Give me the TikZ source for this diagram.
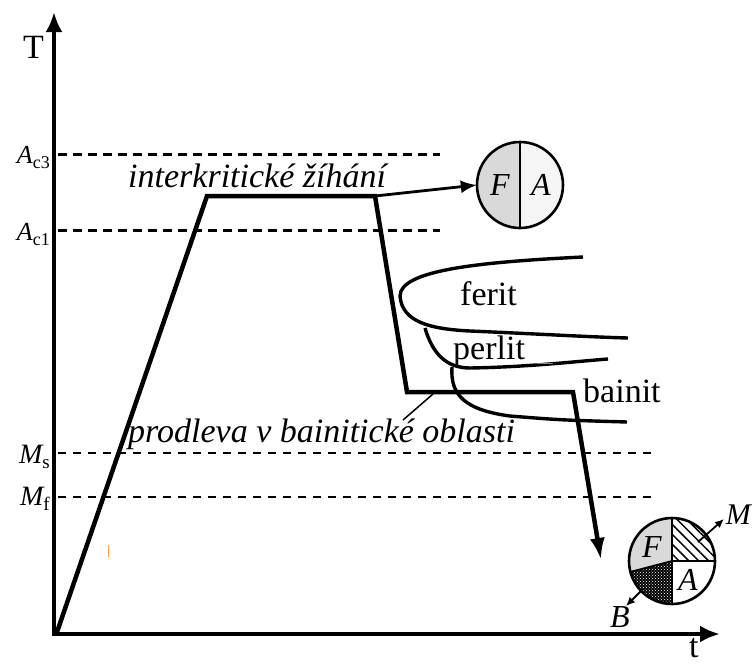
\documentclass[tikz,border=0pt]{standalone}
\usepackage{fontspec}
\setmainfont{Liberation Serif}
\usetikzlibrary{arrows.meta,patterns,patterns.meta}
\newcommand\myTempLbl[4]{{\fontsize{#3}{#3}\selectfont\itshape #1}\raisebox{-5pt}{\fontsize{#4}{#4}\selectfont #2}}
\begin{document}
\begin{tikzpicture}[x=1pt,y=-1pt,
  axisline/.style={line width=4.5pt,line join=miter},
  heatpath/.style={line width=4.5pt,line join=miter},
  curveline/.style={line width=3.4pt},
  acline/.style={line width=3pt,dash pattern=on 9pt off 6pt},
  mline/.style={line width=1.6pt,dash pattern=on 8pt off 7pt},
  lbl/.style={inner sep=0pt,font=\fontsize{34}{40}\selectfont},
  ilbl/.style={inner sep=0pt,font=\fontsize{34}{40}\selectfont\itshape},
  clbl/.style={inner sep=0pt,font=\fontsize{32}{36}\selectfont\itshape},
  phase/.style={circle,minimum size=86pt,inner sep=0pt},
  ringline/.style={line width=2.6pt},
  divline/.style={line width=1.8pt},
  smallarrow/.style={line width=1.8pt,-{Latex[length=9pt,width=8pt]}},
  thin pointer/.style={line width=1.5pt}
]
\useasboundingbox (0,0) rectangle (752,664);
\definecolor{phF}{gray}{0.85}
\definecolor{phA}{gray}{0.96}
% coordinates
\coordinate (o) at (54,634);
\coordinate (ytip) at (54,12);
\coordinate (xtip) at (720,634);
\coordinate (p0) at (57,632);
\coordinate (p1) at (207,196);
\coordinate (p2) at (375,196);
\coordinate (p3) at (407,392);
\coordinate (p4) at (573,392);
\coordinate (p5) at (601,560);
% level lines
\coordinate (ac3a) at (58,154); \coordinate (ac3b) at (440,154);
\coordinate (ac1a) at (58,230); \coordinate (ac1b) at (440,230);
\coordinate (msa) at (58,453); \coordinate (msb) at (652,453);
\coordinate (mfa) at (58,497); \coordinate (mfb) at (652,497);
\draw[acline] (ac3a) -- (ac3b);
\draw[acline] (ac1a) -- (ac1b);
\draw[mline] (msa) -- (msb);
\draw[mline] (mfa) -- (mfb);
% axes
\draw[axisline,{Latex[length=20pt,width=17pt]}-{Latex[length=20pt,width=17pt]}] (ytip) -- (o) -- (xtip);
\node[lbl,anchor=base west] (Tl) at (23,58) {T};
\node[lbl,anchor=base west] (tl) at (689,657) {t};
% labels of levels
\node[inner sep=0pt,anchor=base east] (lac3) at (50,163) {\myTempLbl{A}{c3}{26}{18}};
\node[inner sep=0pt,anchor=base east] (lac1) at (50,240) {\myTempLbl{A}{c1}{26}{18}};
\node[inner sep=0pt,anchor=base east] (lms) at (50,463) {\myTempLbl{M}{s}{28}{19}};
\node[inner sep=0pt,anchor=base east] (lmf) at (50,505) {\myTempLbl{M}{f}{28}{19}};
% orange tick
\coordinate (ot1) at (108,545); \coordinate (ot2) at (108,557);
\draw[line width=0.8pt,color=orange!70] (ot1) -- (ot2);
% transformation curves
\draw[curveline] (583,257) .. controls (480,262) and (400,270) .. (400,296)
   .. controls (402,322) and (430,329) .. (470,331)
   .. controls (540,334) and (590,337) .. (628,338);
\draw[curveline] (425,328) .. controls (432,352) and (445,368) .. (470,368)
   .. controls (530,367) and (580,361) .. (608,359);
\draw[curveline] (452,367) .. controls (450,395) and (465,410) .. (510,416)
   .. controls (560,420) .. (627,422);
\draw[line width=0.8pt,color=gray] (537,363) -- (553,363);
\node[lbl,anchor=base west] (ferit) at (460,305) {ferit};
\node[lbl,anchor=base west] (perlit) at (453,359) {perlit};
\node[lbl,anchor=base west] (bainit) at (583,402) {bainit};
% top phase circle
\node[phase] (c1) at (520,185) {};
\begin{scope}
  \clip (c1.center) circle[radius=43pt];
  \fill[phF] (470,135) rectangle (520,235);
  \fill[phA] (520,135) rectangle (570,235);
\end{scope}
\draw[ringline] (c1.center) circle[radius=43pt];
\draw[divline] (c1.north) -- (c1.south);
\node[clbl] (f1) at (500,185) {F};
\node[clbl] (a1) at (541,185) {A};
\draw[line width=2.8pt,-{Latex[length=16pt,width=13pt]}] (p2) -- (c1.west);
% heat treatment path
\draw[heatpath,-{Latex[length=22pt,width=15pt]}] (p0) -- (p1) -- (p2) -- (p3) -- (p4) -- (p5);
\node[ilbl,anchor=base west] (ik) at (128,187) {interkritické žíhání};
\node[ilbl,anchor=base west] (pb) at (128,442) {prodleva v bainitické oblasti};
\coordinate (pt1) at (433,394); \coordinate (pt2) at (403,420);
\draw[thin pointer] (pt1) -- (pt2);
% bottom phase circle
\node[phase] (c2) at (672,561) {};
\coordinate (cl) at (630,572);
\begin{scope}
  \clip (c2.center) circle[radius=43pt];
  \fill[phF] (c2.center) -- (672,510) -- (615,510) -- (615,576) -- cycle;
  \fill[white] (c2.center) -- (725,561) -- (725,615) -- (672,615) -- cycle;
  \fill[white] (c2.center) -- (672,510) -- (725,510) -- (725,561) -- cycle;
  \fill[pattern={Lines[angle=-45,distance=7pt,line width=1.5pt]}] (c2.center) -- (672,510) -- (725,510) -- (725,561) -- cycle;
  \fill[black] (c2.center) -- (672,615) -- (615,615) -- (615,576) -- cycle;
  \fill[pattern=crosshatch dots,pattern color=white] (c2.center) -- (672,615) -- (615,615) -- (615,576) -- cycle;
\end{scope}
\draw[divline] (c2.north) -- (c2.south);
\draw[divline] (c2.center) -- (c2.east);
\draw[divline] (c2.center) -- (cl);
\draw[ringline] (c2.center) circle[radius=43pt];
\node[clbl] (f2) at (652,547) {F};
\node[clbl] (a2) at (688,580) {A};
\coordinate (mA) at (698,542); \coordinate (mB) at (724,519);
\coordinate (bA) at (643,589); \coordinate (bB) at (626,606);
\draw[smallarrow] (mA) -- (mB);
\draw[smallarrow] (bA) -- (bB);
\node[inner sep=0pt,anchor=base east,font=\fontsize{30}{34}\selectfont\itshape] (ml) at (751,524) {M};
\node[clbl,anchor=base west] (bl) at (610,627) {B};
\end{tikzpicture}
\end{document}
